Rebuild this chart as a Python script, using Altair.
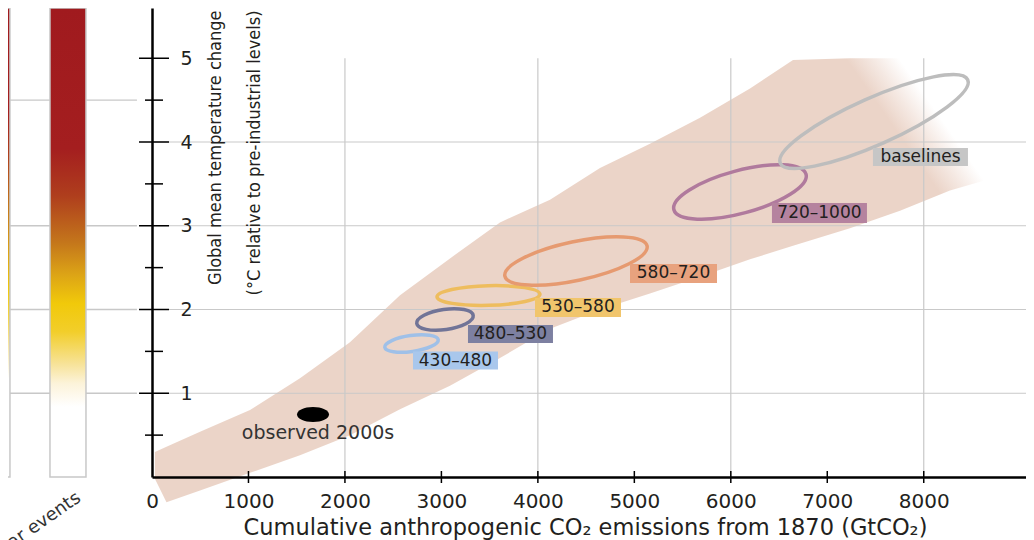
import altair as alt
import pandas as pd

# ---------------- data ----------------
# model plume: cumulative CO2 emissions (GtCO2) vs warming (°C)
plume_x = [30, 150, 498, 1016, 1534, 2052, 2571, 3089, 3607, 4126, 4644,
           5162, 5681, 6199, 6645, 7235, 7754, 8272, 8925]
plume_upper = [0.30, 0.36, 0.54, 0.80, 1.18, 1.61, 2.17, 2.61, 3.04, 3.31, 3.69,
               3.98, 4.29, 4.64, 4.98, 5.0, 5.0, 5.0, 5.0]
plume_lower = [-0.02, -0.30, -0.16, 0.05, 0.26, 0.50, 0.81, 1.09, 1.42, 1.77, 2.00,
               2.19, 2.39, 2.60, 2.76, 2.97, 3.18, 3.42, 3.64]

# scenario categories (ppm CO2-eq) : ellipse centres and label anchors
scen_names = ["430–480", "480–530", "530–580", "580–720", "720–1000", "baselines"]
scen_x = [2690, 3037, 3488, 4395, 6095, 7484]
scen_y = [1.594, 1.881, 2.167, 2.579, 3.403, 4.245]
label_x = [3146, 3716, 4416, 5406, 6919, 7966]
label_y = [1.391, 1.707, 2.024, 2.430, 3.152, 3.821]

obs_name = "observed 2000s"
obs_x = [1669]
obs_y = [0.746]
obs_label_x = [1721]
obs_label_y = [0.525]

# risk bars on the left
bar_names = ["Global aggregate impacts", "Large-scale singular events"]
risk_lines = [1.0, 2.0, 3.0, 4.5]

# axes
x_labels = [0, 1000, 2000, 3000, 4000, 5000, 6000, 7000, 8000]
x_ticks = [1000, 2000, 3000, 4000, 5000, 6000, 7000, 8000]
y_major = [1, 2, 3, 4, 5]
y_minor = [0.5, 1.5, 2.5, 3.5, 4.5]
grid_x = [2000, 4000, 6000, 8000]
grid_y = [1, 2, 3, 4]

# ---------------- layout / styles ----------------
X_MAX = 9060
Y_MAX = 5.6
GRID_TOP = 5
BAR_X = [-1659, -871]          # where the risk bars sit, left of the axis
RISK_X0, RISK_X1 = -1700, -156  # extent of the risk-bar guide lines

SANS = "DejaVu Sans"
NARROW = "Liberation Sans Narrow, DejaVu Sans Condensed, Liberation Sans, sans-serif"
TXT = "#231f20"
PINK = "#ebd4c8"
ell_stroke = ["#9fc0e8", "#717497", "#eebd5e", "#e69a70", "#b07a9d", "#bdbdbd"]
box_fill = ["#a9c7ec", "#7d80a1", "#f1c56c", "#e8a27e", "#b5839f", "#c6c6c6"]
ell_rx = [27, 28.5, 51.5, 72.7, 68.4, 102.6]   # px
ell_ry = [8, 10.1, 9.8, 19.4, 21.4, 23.4]      # px
ell_tilt = [8, 8, 1.5, 12, 15, 24]             # deg, rising to the right
box_w = [85, 85, 86, 87, 95, 95]
box_h = [18, 18, 19, 19, 20, 18]


def ellipse_path(b):
    k = 0.5523
    return (f"M-1,0C-1,{-k*b:.4f},{-k:.4f},{-b:.4f},0,{-b:.4f}"
            f"C{k:.4f},{-b:.4f},1,{-k*b:.4f},1,0"
            f"C1,{k*b:.4f},{k:.4f},{b:.4f},0,{b:.4f}"
            f"C{-k:.4f},{b:.4f},-1,{k*b:.4f},-1,0Z")


def rect_path(r):
    return f"M-1,{-r:.4f}L1,{-r:.4f}L1,{r:.4f}L-1,{r:.4f}Z"


X_SCALE = alt.Scale(domain=[0, X_MAX], nice=False, zero=False, padding=0)
Y_SCALE = alt.Scale(domain=[0, Y_MAX], nice=False, zero=False, padding=0)

band_df = pd.DataFrame({"x": plume_x, "upper": plume_upper, "lower": plume_lower})
ell_df = pd.DataFrame({
    "x": scen_x, "y": scen_y,
    "path": [ellipse_path(ry / rx) for rx, ry in zip(ell_rx, ell_ry)],
    "size": [(2 * rx) ** 2 for rx in ell_rx],
    "ang": [360 - t for t in ell_tilt],
    "stroke": ell_stroke,
})
box_df = pd.DataFrame({
    "x": label_x, "y": label_y, "label": scen_names,
    "path": [rect_path(h / w) for w, h in zip(box_w, box_h)],
    "size": [w ** 2 for w in box_w],
    "fill": box_fill,
})
obs_df = pd.DataFrame({"x": obs_x, "y": obs_y, "path": [ellipse_path(7.5 / 16)],
                       "size": [32 ** 2]})
obs_lab_df = pd.DataFrame({"x": obs_label_x, "y": obs_label_y, "label": [obs_name]})
gx_df = pd.DataFrame({"gx": grid_x, "gy0": [0] * len(grid_x), "gy1": [GRID_TOP] * len(grid_x)})
gy_df = pd.DataFrame({"gy": grid_y, "gx0": [0] * len(grid_y), "gx1": [X_MAX] * len(grid_y)})

band_grad = alt.Gradient(
    gradient="linear", x1=0, y1=0.5, x2=1, y2=0.1393,
    stops=[alt.GradientStop(offset=0, color=PINK),
           alt.GradientStop(offset=0.872, color=PINK),
           alt.GradientStop(offset=0.90, color="#f5e9e3"),
           alt.GradientStop(offset=0.927, color="#ffffff"),
           alt.GradientStop(offset=1, color="#ffffff")])

x_axis = alt.Axis(
    orient="bottom",
    values=x_labels, format="d", labelFont=SANS, labelFontSize=20, labelColor=TXT,
    labelPadding=14, ticks=False, tickSize=0, domainColor="black", domainWidth=2.5,
    grid=False, labelFlush=False, labelOverlap=False,
    title="Cumulative anthropogenic CO₂ emissions from 1870 (GtCO₂)",
    titleFont=SANS, titleFontSize=22.5, titleFontWeight="normal", titleColor=TXT,
    titleX=433, titleY=57, titleBaseline="alphabetic", titleAlign="center", zindex=1)
y_axis = alt.Axis(
    orient="left",
    values=y_major, format="d", labelFont=SANS, labelFontSize=19, labelColor=TXT,
    labelAlign="left", labelBaseline="middle", labelPadding=-28, ticks=False, tickSize=0,
    domainColor="black", domainWidth=2.5, grid=False,
    title=["Global mean temperature change", "(°C relative to pre-industrial levels)"],
    titleFont=NARROW, titleFontSize=18, titleFontWeight="normal", titleColor=TXT,
    titleAngle=270, titleAlign="right", titleBaseline="alphabetic",
    titleX=68, titleY=2, titleLineHeight=39, zindex=1)


def X(field, axis=None):
    return alt.X(field, scale=X_SCALE, axis=axis)


def Y(field, axis=None):
    return alt.Y(field, scale=Y_SCALE, axis=axis)


band = alt.Chart(band_df).mark_area(fill=band_grad, interpolate="linear").encode(
    x=X("x:Q", x_axis), y=Y("upper:Q", y_axis), y2="lower:Q")

grid_v = alt.Chart(gx_df).mark_rule(color="#c9c9c9", strokeWidth=1.2).encode(
    x=X("gx:Q"), y=Y("gy0:Q"), y2="gy1:Q")
grid_h = alt.Chart(gy_df).mark_rule(color="#c9c9c9", strokeWidth=1.2).encode(
    y=Y("gy:Q"), x=X("gx0:Q"), x2="gx1:Q")

ellipses = alt.Chart(ell_df).mark_point(filled=False, strokeWidth=3.5, opacity=1).encode(
    x=X("x:Q"), y=Y("y:Q"),
    shape=alt.Shape("path:N", scale=None),
    size=alt.Size("size:Q", scale=None),
    angle=alt.Angle("ang:Q", scale=None),
    color=alt.Color("stroke:N", scale=None))

boxes = alt.Chart(box_df).mark_point(filled=True, opacity=1, strokeWidth=0).encode(
    x=X("x:Q"), y=Y("y:Q"),
    shape=alt.Shape("path:N", scale=None),
    size=alt.Size("size:Q", scale=None),
    color=alt.Color("fill:N", scale=None))

box_text = alt.Chart(box_df).mark_text(font=SANS, fontSize=17, color=TXT,
                                       align="center", baseline="middle").encode(
    x=X("x:Q"), y=Y("y:Q"), text="label:N")

obs = alt.Chart(obs_df).mark_point(filled=True, opacity=1, color="black", strokeWidth=0).encode(
    x=X("x:Q"), y=Y("y:Q"),
    shape=alt.Shape("path:N", scale=None),
    size=alt.Size("size:Q", scale=None))
obs_text = alt.Chart(obs_lab_df).mark_text(font=SANS, fontSize=19, color="#333333",
                                           align="center", baseline="middle").encode(
    x=X("x:Q"), y=Y("y:Q"), text="label:N")

xt = alt.Chart(pd.DataFrame({"v": x_ticks})).mark_rule(color="black", strokeWidth=1.5).encode(
    x=X("v:Q"), y=alt.value(463), y2=alt.value(475))
yt_major = alt.Chart(pd.DataFrame({"v": y_major})).mark_rule(color="black", strokeWidth=1.5).encode(
    y=Y("v:Q"), x=alt.value(-13), x2=alt.value(17))
yt_minor = alt.Chart(pd.DataFrame({"v": y_minor})).mark_rule(color="black", strokeWidth=1.5).encode(
    y=Y("v:Q"), x=alt.value(-7), x2=alt.value(11))

# ---------------- left risk bars ----------------
bars_df = pd.DataFrame({"bar": [0, 1], "bx": BAR_X, "name": bar_names,
                        "bottom": [0, 0], "top": [Y_MAX, Y_MAX]})
risk_rows = []
for i, v in enumerate(risk_lines):
    risk_rows.append({"lvl": i, "ry": v, "rx": RISK_X0})
    risk_rows.append({"lvl": i, "ry": v, "rx": RISK_X1})
risk_df = pd.DataFrame(risk_rows)


def grad(stops):
    return alt.Gradient(gradient="linear", x1=0, y1=0, x2=0, y2=1,
                        stops=[alt.GradientStop(offset=o, color=c) for o, c in stops])


grad0 = grad([(0, "#a01a1e"), (0.22, "#a41e1f"), (0.32, "#b0421d"), (0.42, "#c4761b"),
              (0.52, "#dca317"), (0.60, "#f0c90c"), (0.66, "#f3d54a"), (0.72, "#f8e7a8"),
              (0.79, "#ffffff"), (1, "#ffffff")])
grad1 = grad([(0, "#a01a1e"), (0.30, "#a41e1f"), (0.40, "#af3e1d"), (0.50, "#c4761b"),
              (0.57, "#dda516"), (0.63, "#f1c90a"), (0.69, "#f2ce2a"), (0.76, "#f7e39a"),
              (0.80, "#fcf3d9"), (0.85, "#ffffff"), (1, "#ffffff")])

risk_grid = alt.Chart(risk_df).mark_line(color="#c8c8c8", strokeWidth=1.4).encode(
    x=X("rx:Q"), y=Y("ry:Q"), detail="lvl:N")


def bar_layer(i, g):
    return alt.Chart(bars_df).transform_filter(f"datum.bar == {i}").mark_bar(
        size=36, fill=g, stroke="#c8c8c8", strokeWidth=1.5).encode(
        x=X("bx:Q"), y=Y("bottom:Q"), y2="top:Q")


bar_text = alt.Chart(bars_df).mark_text(font=SANS, fontSize=18, color="#333333",
                                        angle=325, align="right", baseline="top",
                                        dx=-2, dy=13).encode(
    x=X("bx:Q"), y=Y("bottom:Q"), text="name:N")

chart = alt.layer(
    risk_grid, bar_layer(0, grad0), bar_layer(1, grad1), bar_text,
    band, grid_v, grid_h, ellipses, boxes, box_text, obs, obs_text,
    xt, yt_major, yt_minor,
).resolve_axis(x="independent", y="independent").properties(
    width=874, height=469,
    autosize=alt.AutoSizeParams(type="none"),
    padding={"left": 144, "top": 0, "right": 0, "bottom": 63},
).configure_view(stroke=None)

chart.save("out.html", embed_options={"renderer": "svg", "actions": False})
